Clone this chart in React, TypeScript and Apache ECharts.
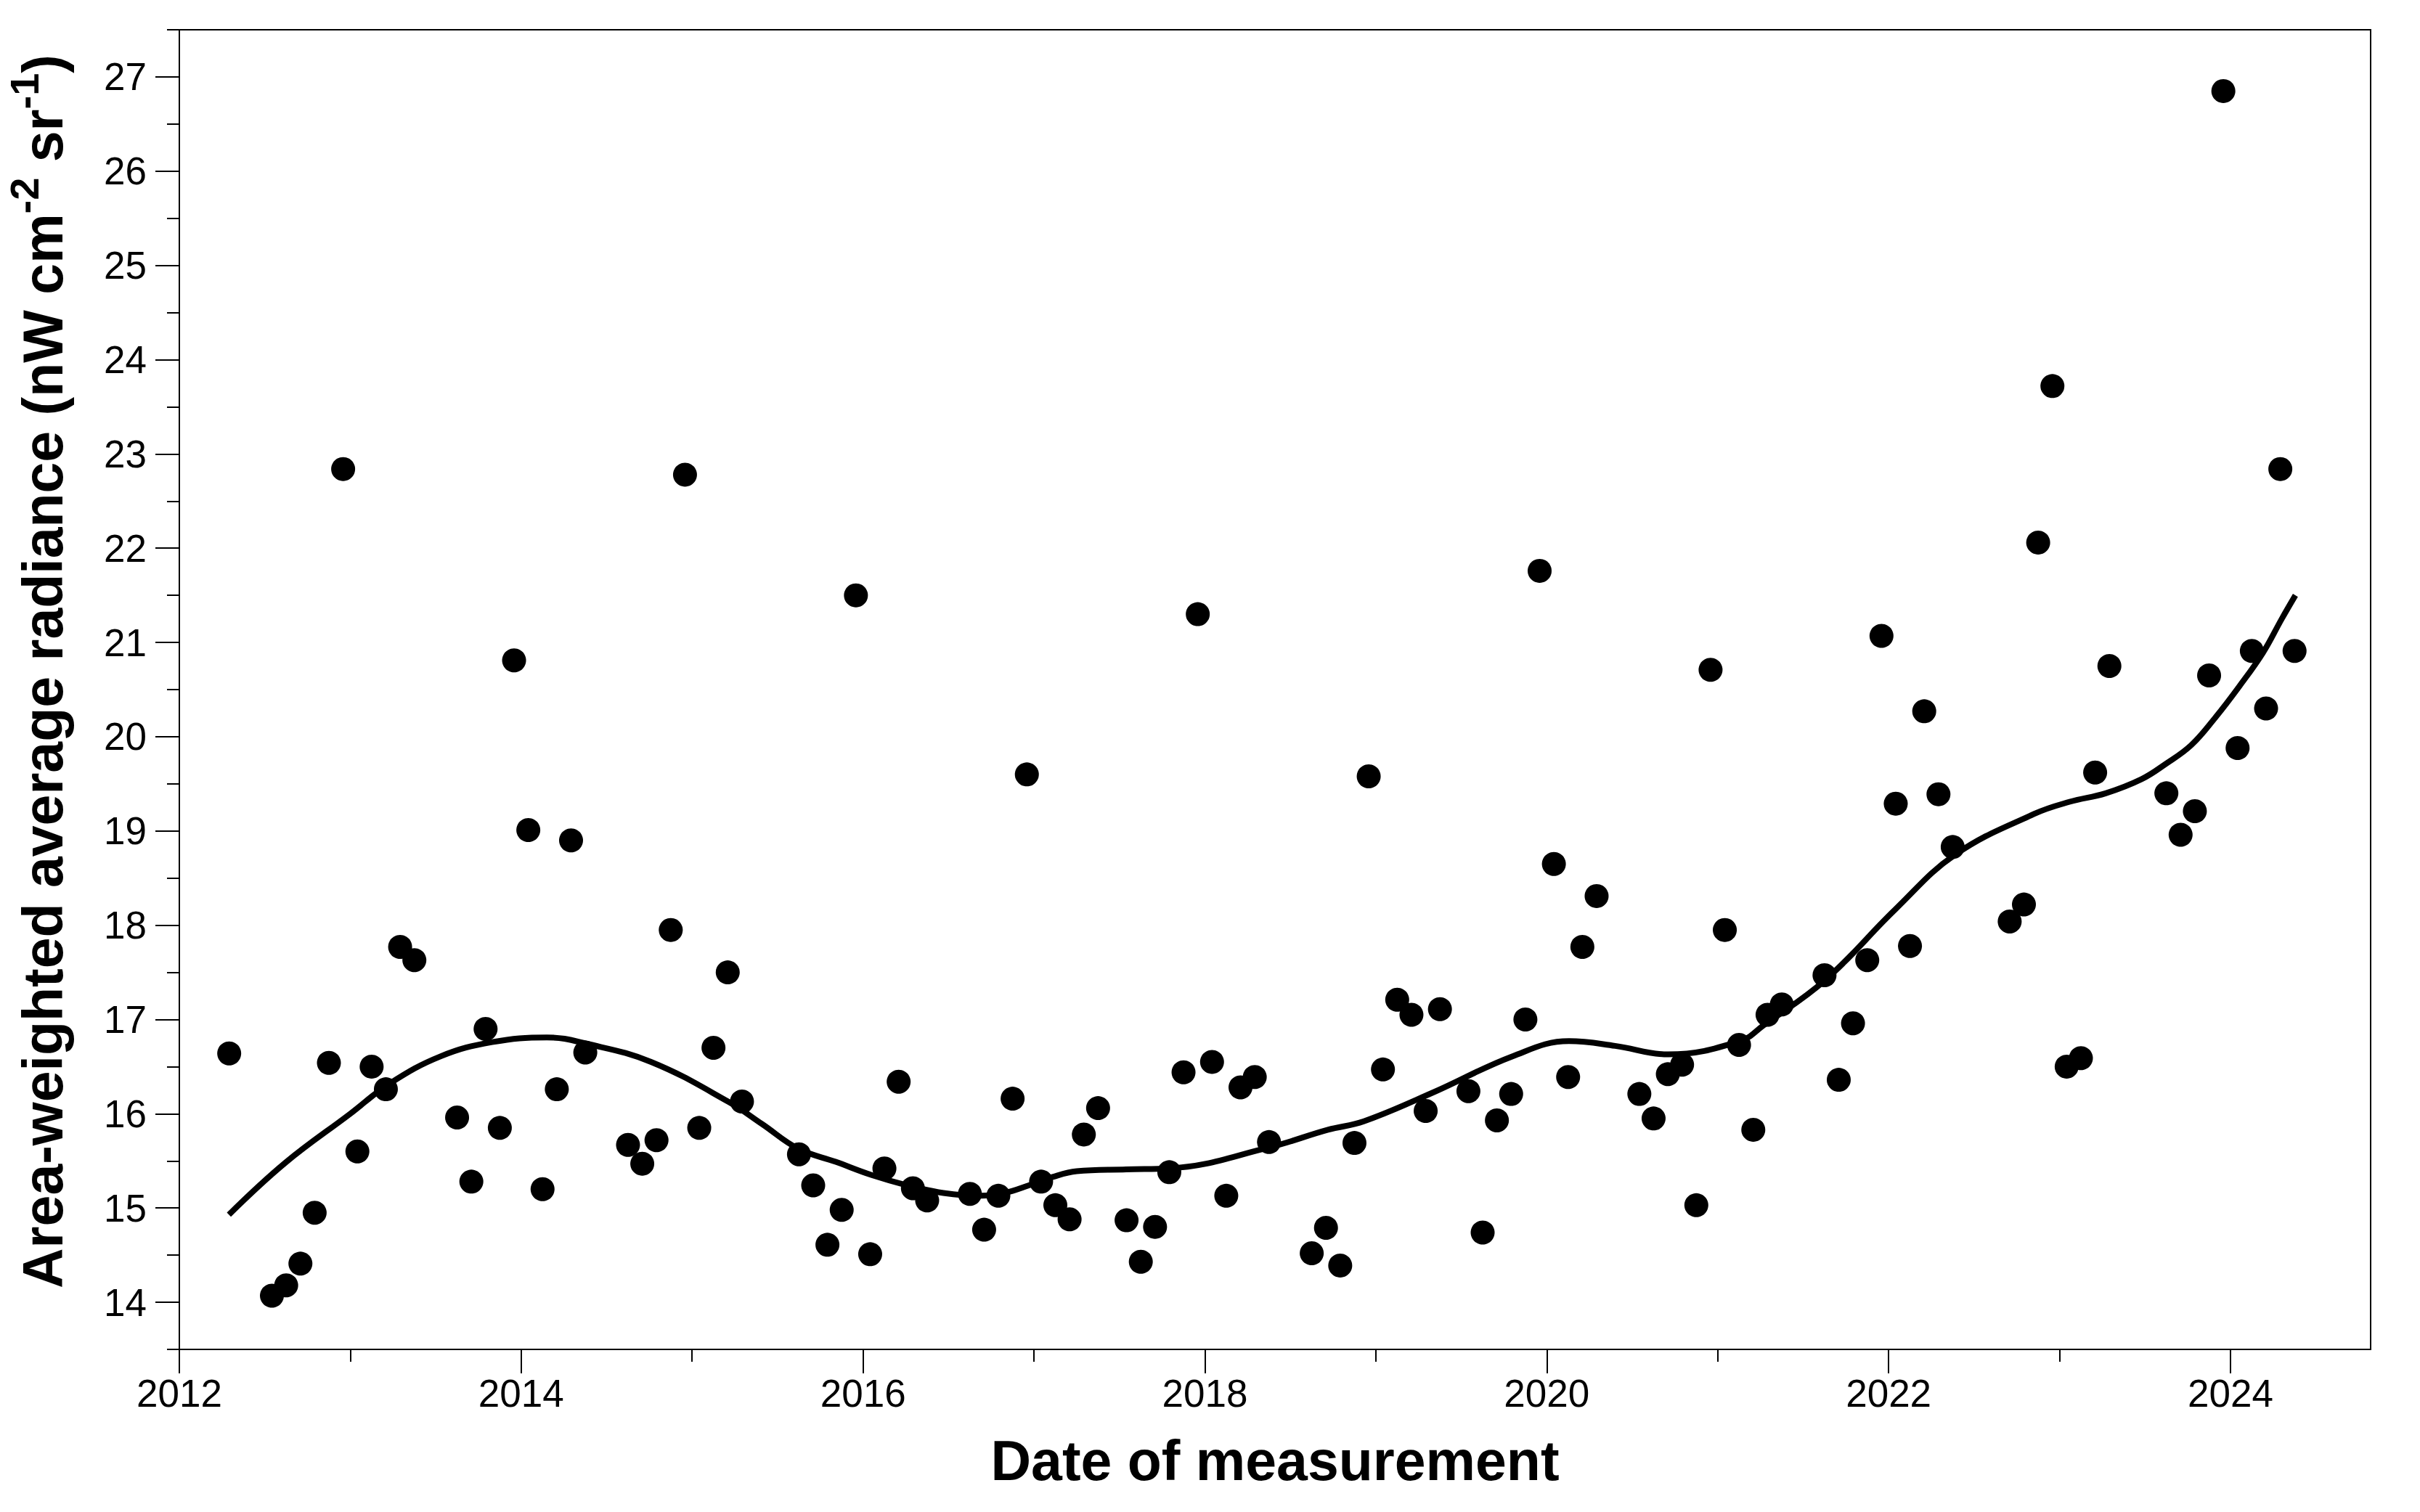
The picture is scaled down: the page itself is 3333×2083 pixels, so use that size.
import React, { useEffect, useRef } from "react";
import * as echarts from "echarts";

// ---- Data ----
const months = [
  "2012-04", "2012-07", "2012-08", "2012-09", "2012-10", "2012-11", "2012-12",
  "2013-01", "2013-02", "2013-03", "2013-04", "2013-05", "2013-08", "2013-09", "2013-10", "2013-11", "2013-12",
  "2014-01", "2014-02", "2014-03", "2014-04", "2014-05", "2014-08", "2014-09", "2014-10", "2014-11", "2014-12",
  "2015-01", "2015-02", "2015-03", "2015-04", "2015-08", "2015-09", "2015-10", "2015-11", "2015-12",
  "2016-01", "2016-02", "2016-03", "2016-04", "2016-05", "2016-08", "2016-09", "2016-10", "2016-11", "2016-12",
  "2017-01", "2017-02", "2017-03", "2017-04", "2017-05", "2017-07", "2017-08", "2017-09", "2017-10", "2017-11", "2017-12",
  "2018-01", "2018-02", "2018-03", "2018-04", "2018-05", "2018-08", "2018-09", "2018-10", "2018-11", "2018-12",
  "2019-01", "2019-02", "2019-03", "2019-04", "2019-05", "2019-07", "2019-08", "2019-09", "2019-10", "2019-11", "2019-12",
  "2020-01", "2020-02", "2020-03", "2020-04", "2020-07", "2020-08", "2020-09", "2020-10", "2020-11", "2020-12",
  "2021-01", "2021-02", "2021-03", "2021-04", "2021-05", "2021-08", "2021-09", "2021-10", "2021-11", "2021-12",
  "2022-01", "2022-02", "2022-03", "2022-04", "2022-05", "2022-09", "2022-10", "2022-11", "2022-12",
  "2023-01", "2023-02", "2023-03", "2023-04", "2023-08", "2023-09", "2023-10", "2023-11", "2023-12",
  "2024-01", "2024-02", "2024-03", "2024-04", "2024-05",
];

const radiance = [
  16.64, 14.07, 14.18, 14.41, 14.95, 16.54, 22.84,
  15.60, 16.50, 16.26, 17.77, 17.63, 15.96, 15.28, 16.90, 15.85, 20.81,
  19.01, 15.20, 16.26, 18.90, 16.65, 15.67, 15.47, 15.72, 17.95, 22.78,
  15.85, 16.70, 17.50, 16.13, 15.57, 15.24, 14.61, 14.98, 21.50,
  14.51, 15.42, 16.34, 15.21, 15.08, 15.15, 14.77, 15.13, 16.16, 19.60,
  15.28, 15.03, 14.88, 15.78, 16.06, 14.87, 14.43, 14.80, 15.38, 16.44, 21.30,
  16.55, 15.13, 16.28, 16.39, 15.70, 14.52, 14.79, 14.39, 15.69, 19.58,
  16.47, 17.21, 17.05, 16.03, 17.11, 16.24, 14.74, 15.93, 16.21, 17.00, 21.76,
  18.65, 16.39, 17.77, 18.31, 16.21, 15.95, 16.42, 16.52, 15.03, 20.71,
  17.95, 16.73, 15.83, 17.05, 17.16, 17.47, 16.36, 16.96, 17.63, 21.07,
  19.29, 17.78, 20.27, 19.39, 18.83, 18.04, 18.22, 22.06, 23.72,
  16.50, 16.59, 19.62, 20.75, 19.40, 18.96, 19.21, 20.65, 26.85,
  19.88, 20.91, 20.30, 22.84, 20.91,
];

// Smoothed trend curve
const trendYears = [
  2012.29, 2012.62, 2013.0, 2013.23, 2013.53, 2013.83, 2014.15, 2014.39, 2014.76,
  2015.21, 2015.41, 2015.62, 2015.84, 2016.05, 2016.26, 2016.47, 2016.69, 2016.83,
  2016.97, 2017.11, 2017.25, 2017.54, 2017.79,
  2018.37, 2018.72, 2018.93, 2019.34, 2019.8, 2020.13, 2020.4, 2020.71, 2021.13,
  2021.27, 2021.63, 2022.04, 2022.39, 2022.85, 2023.06, 2023.27, 2023.48, 2023.62,
  2023.77, 2023.91, 2024.05, 2024.19, 2024.3, 2024.38,
];
const trendValues = [
  14.93, 15.48, 16.0, 16.32, 16.61, 16.76, 16.81, 16.74, 16.55,
  16.13, 15.89, 15.63, 15.49, 15.35, 15.24, 15.16, 15.13, 15.16,
  15.24, 15.33, 15.39, 15.41, 15.42,
  15.64, 15.83, 15.92, 16.23, 16.61, 16.77, 16.72, 16.63, 16.77,
  16.94, 17.42, 18.17, 18.75, 19.18, 19.31, 19.4, 19.55, 19.71,
  19.91, 20.2, 20.53, 20.89, 21.25, 21.5,
];

const xMajorTicks = [2012, 2014, 2016, 2018, 2020, 2022, 2024];
const xMinorTicks = [2013, 2015, 2017, 2019, 2021, 2023];
const yMajorTicks = [14, 15, 16, 17, 18, 19, 20, 21, 22, 23, 24, 25, 26, 27];
const yMinorTicks = [13.5, 14.5, 15.5, 16.5, 17.5, 18.5, 19.5, 20.5, 21.5, 22.5, 23.5, 24.5, 25.5, 26.5, 27.5];

const X_MIN = 2012;
const X_MAX = 2024.82;
const Y_MIN = 13.5;
const Y_MAX = 27.5;

const xTitle = "Date of measurement";
const yTitle = "{t0|Area-weighted average radiance (nW cm}{sup|-2}{t| sr}{sup|-1}{t|)}";

const FONT = '"Liberation Sans", Arial, Helvetica, sans-serif';

function toYear(s: string): number {
  const [y, m] = s.split("-").map(Number);
  return y + (m - 0.5) / 12;
}

function buildOption() {
  const axisLineStyle = { color: "#000", width: 2 };
  const tickLineStyle = { color: "#000", width: 2 };
  const labelStyle = { fontFamily: FONT, fontSize: 53, color: "#000" };
  const titleTok = { fontFamily: FONT, fontSize: 77, fontWeight: "bold", color: "#000", lineHeight: 77, verticalAlign: "bottom" };

  return {
    animation: false,
    backgroundColor: "#fff",
    grid: {
      left: 247,
      right: 68,
      top: 41,
      bottom: 224,
      show: true,
      borderColor: "#000",
      borderWidth: 2,
      backgroundColor: "transparent",
      containLabel: false,
      outerBoundsMode: "none",
    },
    xAxis: [
      {
        type: "value",
        position: "bottom",
        min: X_MIN,
        max: X_MAX,
        name: xTitle,
        nameLocation: "middle",
        nameGap: 114,
        nameTextStyle: { fontFamily: FONT, fontSize: 77, fontWeight: "bold", color: "#000" },
        axisLine: { show: true, onZero: false, lineStyle: axisLineStyle },
        axisTick: { show: true, customValues: xMajorTicks, length: 33, lineStyle: tickLineStyle },
        axisLabel: {
          show: true,
          customValues: xMajorTicks,
          margin: 34,
          ...labelStyle,
          formatter: (v: number) => String(Math.round(v)),
        },
        splitLine: { show: false },
      },
      {
        type: "value",
        position: "bottom",
        min: X_MIN,
        max: X_MAX,
        axisLine: { show: false, onZero: false },
        axisTick: { show: true, customValues: xMinorTicks, length: 17, lineStyle: tickLineStyle },
        axisLabel: { show: false },
        splitLine: { show: false },
      },
    ],
    yAxis: [
      {
        type: "value",
        position: "left",
        min: Y_MIN,
        max: Y_MAX,
        name: yTitle,
        nameLocation: "middle",
        nameRotate: 90,
        nameGap: 150,
        nameTextStyle: {
          color: "#000",
          rich: {
            t0: { ...titleTok, padding: [0, 0, 0, 50] },
            t: titleTok,
            sup: {
              fontFamily: FONT,
              fontSize: 56,
              fontWeight: "bold",
              color: "#000",
              lineHeight: 56,
              verticalAlign: "bottom",
              padding: [0, 0, 36, 0],
            },
          },
        },
        axisLine: { show: true, onZero: false, lineStyle: axisLineStyle },
        axisTick: { show: true, customValues: yMajorTicks, length: 33, lineStyle: tickLineStyle },
        axisLabel: {
          show: true,
          customValues: yMajorTicks,
          margin: 45,
          ...labelStyle,
          formatter: (v: number) => String(v),
        },
        splitLine: { show: false },
      },
      {
        type: "value",
        position: "left",
        min: Y_MIN,
        max: Y_MAX,
        axisLine: { show: false, onZero: false },
        axisTick: { show: true, customValues: yMinorTicks, length: 17, lineStyle: tickLineStyle },
        axisLabel: { show: false },
        splitLine: { show: false },
      },
    ],
    series: [
      {
        type: "scatter",
        xAxisIndex: 0,
        yAxisIndex: 0,
        data: months.map((m, i) => [toYear(m), radiance[i]]),
        symbol: "circle",
        symbolSize: 33,
        itemStyle: { color: "#000", opacity: 1 },
        z: 3,
      },
      {
        type: "line",
        xAxisIndex: 0,
        yAxisIndex: 0,
        data: trendYears.map((x, i) => [x, trendValues[i]]),
        smooth: 0.4,
        showSymbol: false,
        symbol: "none",
        lineStyle: { color: "#000", width: 8, cap: "butt" },
        z: 4,
      },
    ],
  };
}

export default function App() {
  const ref = useRef<HTMLDivElement>(null);
  useEffect(() => {
    if (!ref.current) return;
    const chart = echarts.init(ref.current, null, { renderer: "svg" });
    chart.setOption(buildOption() as any);
    return () => {
      chart.dispose();
    };
  }, []);
  return (
    <div
      ref={ref}
      style={{ position: "fixed", left: 0, top: 0, width: 3333, height: 2083, background: "#fff" }}
    />
  );
}
